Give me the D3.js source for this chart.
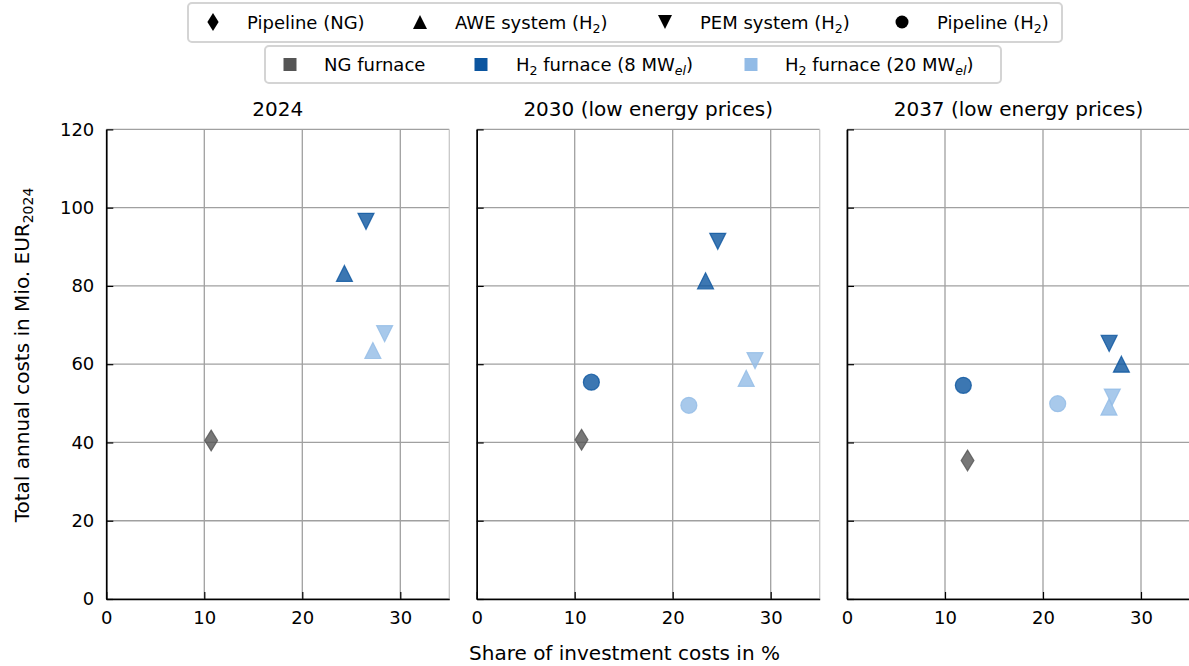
<!DOCTYPE html>
<html><head><meta charset="utf-8">
<script src="https://cdn.jsdelivr.net/npm/d3@7"></script>
<style>
body{margin:0;background:#fff;}
svg text{font-family:"DejaVu Sans",sans-serif;fill:#000;}
</style></head>
<body><svg id="c" width="1189" height="666"></svg>
<script>
// ---- data ----
const panelTitles = ["2024", "2030 (low energy prices)", "2037 (low energy prices)"];
const xTicks = [0, 10, 20, 30];
const yTicks = [0, 20, 40, 60, 80, 100, 120];
// per panel values (share of investment costs %, total annual costs Mio EUR)
const pipelineNG_x = [10.7, 10.7, 12.3];
const pipelineNG_y = [40.5, 40.7, 35.4];
const awe8_x = [24.3, 23.35, 28.0];
const awe8_y = [83.2, 81.3, 60.0];
const pem8_x = [26.5, 24.6, 26.75];
const pem8_y = [96.5, 91.4, 65.3];
const pipeH2_8_x = [null, 11.7, 11.87];
const pipeH2_8_y = [null, 55.4, 54.6];
const pipeH2_20_x = [null, 21.65, 21.5];
const pipeH2_20_y = [null, 49.5, 49.9];
const awe20_x = [27.2, 27.5, 26.73];
const awe20_y = [63.5, 56.4, 49.05];
const pem20_x = [28.4, 28.4, 27.07];
const pem20_y = [67.8, 60.9, 51.6];

const colors = {ng: "#555555", h8: "#0b559f", h20: "#92bbe6"};

const series = [
  {x: pipelineNG_x, y: pipelineNG_y, shape: "diamond", color: colors.ng},
  {x: pipeH2_8_x, y: pipeH2_8_y, shape: "circle", color: colors.h8},
  {x: pipeH2_20_x, y: pipeH2_20_y, shape: "circle", color: colors.h20},
  {x: awe8_x, y: awe8_y, shape: "up", color: colors.h8},
  {x: pem8_x, y: pem8_y, shape: "down", color: colors.h8},
  {x: awe20_x, y: awe20_y, shape: "up", color: colors.h20},
  {x: pem20_x, y: pem20_y, shape: "down", color: colors.h20},
];

// ---- layout ----
const svg = d3.select("#c");
const panelLeft = [106.3, 476.7, 847];
const panelW = 343;
const plotTop = 129.4, plotBottom = 599;

function shapePath(shape, s) {
  const h = s / 2;
  if (shape === "up") return `M0,${-h}L${h},${h}L${-h},${h}Z`;
  if (shape === "down") return `M0,${h}L${h},${-h}L${-h},${-h}Z`;
  if (shape === "diamond") return `M0,${-h*1.3}L${h*0.8},0L0,${h*1.3}L${-h*0.8},0Z`;
  if (shape === "circle") return d3.arc()({innerRadius:0, outerRadius:h, startAngle:0, endAngle:2*Math.PI});
  if (shape === "square") return `M${-h},${-h}H${h}V${h}H${-h}Z`;
}

const y = d3.scaleLinear().domain([0, 120]).range([plotBottom, plotTop]);

panelTitles.forEach((title, i) => {
  const x = d3.scaleLinear().domain([0, 35]).range([panelLeft[i], panelLeft[i] + panelW]);
  const g = svg.append("g");
  // grid
  g.selectAll(".gx").data(xTicks).join("line")
    .attr("x1", d => x(d)).attr("x2", d => x(d)).attr("y1", plotTop).attr("y2", plotBottom)
    .attr("stroke", "#a0a0a0").attr("stroke-width", 1.3);
  g.selectAll(".gy").data(yTicks).join("line")
    .attr("x1", x(0)).attr("x2", x(35)).attr("y1", d => y(d)).attr("y2", d => y(d))
    .attr("stroke", "#a0a0a0").attr("stroke-width", 1.3);
  // right spine light
  g.append("line").attr("x1", x(35)).attr("x2", x(35)).attr("y1", plotTop).attr("y2", plotBottom)
    .attr("stroke", "#c8c8c8").attr("stroke-width", 1.3);

  // axes
  const xAxis = d3.axisBottom(x).tickValues(xTicks).tickSizeInner(-7).tickSizeOuter(0).tickPadding(12);
  const gx = g.append("g").attr("transform", `translate(0,${plotBottom})`).call(xAxis);
  gx.select(".domain").attr("stroke", "#000").attr("stroke-width", 1.6);
  gx.selectAll(".tick line").attr("stroke", "#000").attr("stroke-width", 1.2);
  gx.selectAll("text").attr("font-size", 18).attr("font-family", "DejaVu Sans").attr("dy", "0.71em");

  const yAxis = d3.axisLeft(y).tickValues(yTicks).tickSizeInner(-7).tickSizeOuter(0).tickPadding(12);
  if (i > 0) yAxis.tickFormat("");
  const gy = g.append("g").attr("transform", `translate(${x(0)},0)`).call(yAxis);
  gy.select(".domain").attr("stroke", "#000").attr("stroke-width", 1.6);
  gy.selectAll(".tick line").attr("stroke", "#000").attr("stroke-width", 1.2);
  gy.selectAll("text").attr("font-size", 18).attr("font-family", "DejaVu Sans");

  // title
  g.append("text").attr("x", x(17.5)).attr("y", 116).attr("text-anchor", "middle")
    .attr("font-size", 20).text(title);

  // points
  series.forEach(s => {
    if (s.x[i] == null) return;
    g.append("path").attr("d", shapePath(s.shape, 16))
      .attr("transform", `translate(${x(s.x[i])},${y(s.y[i])})`)
      .attr("fill", s.color).attr("fill-opacity", 0.8)
      .attr("stroke", s.color).attr("stroke-opacity", 0.8).attr("stroke-width", 1.2);
  });
});

// axis labels
svg.append("text").attr("x", 624.5).attr("y", 660).attr("text-anchor", "middle")
  .attr("font-size", 20).text("Share of investment costs in %");
const yl = svg.append("text").attr("transform", "translate(29,355) rotate(-90)")
  .attr("text-anchor", "middle").attr("font-size", 20);
yl.append("tspan").text("Total annual costs in Mio. EUR");
yl.append("tspan").attr("font-size", 14).attr("dy", 4).text("2024");

// legends
function legendBox(x0, y0, w, h) {
  svg.append("rect").attr("x", x0).attr("y", y0).attr("width", w).attr("height", h)
    .attr("rx", 4).attr("fill", "#fff").attr("stroke", "#d4d4d4").attr("stroke-width", 2);
}
legendBox(188, 3, 874, 39);
legendBox(265, 46, 736, 37);

const leg1 = [
  {shape: "diamond", mx: 213, tx: 247, parts: [["Pipeline (NG)"]]},
  {shape: "up", mx: 420, tx: 455, parts: [["AWE system (H"], ["2", "sub"], [")"]]},
  {shape: "down", mx: 665, tx: 700, parts: [["PEM system (H"], ["2", "sub"], [")"]]},
  {shape: "circle", mx: 902, tx: 937, parts: [["Pipeline (H"], ["2", "sub"], [")"]]},
];
const leg2 = [
  {shape: "square", color: colors.ng, mx: 290, tx: 324, parts: [["NG furnace"]]},
  {shape: "square", color: colors.h8, mx: 481, tx: 516, parts: [["H"], ["2", "sub"], [" furnace (8 MW"], ["el", "subi"], [")"]]},
  {shape: "square", color: colors.h20, mx: 751, tx: 785, parts: [["H"], ["2", "sub"], [" furnace (20 MW"], ["el", "subi"], [")"]]},
];
function drawLegend(items, cy) {
  items.forEach(it => {
    const sz = it.shape === "square" ? 13 : (it.shape === "circle" ? 13 : 14);
    svg.append("path").attr("d", shapePath(it.shape, sz))
      .attr("transform", `translate(${it.mx},${cy})`)
      .attr("fill", it.color || "#000");
    const t = svg.append("text").attr("x", it.tx).attr("y", cy + 6.5).attr("font-size", 18);
    let shifted = false;
    it.parts.forEach(pt => {
      const ts = t.append("tspan").text(pt[0]);
      if (pt[1]) {
        ts.attr("font-size", 12.6).attr("dy", shifted ? 0 : 4);
        if (pt[1] === "subi") ts.attr("font-style", "italic");
        shifted = true;
      } else if (shifted) {
        ts.attr("dy", -4); shifted = false;
      }
    });
  });
}
drawLegend(leg1, 22);
drawLegend(leg2, 64.5);
</script></body></html>
